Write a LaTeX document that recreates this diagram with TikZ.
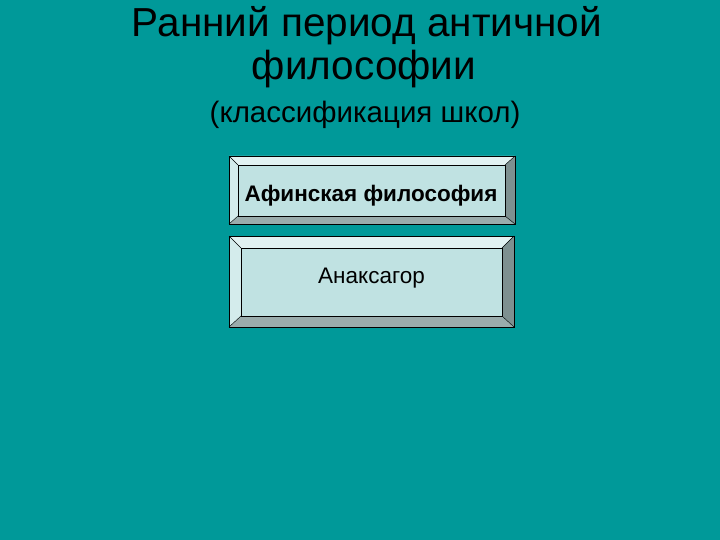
\documentclass[tikz,border=0pt]{standalone}
\usepackage{fontspec}
\setmainfont{Liberation Sans}
\definecolor{bg}{HTML}{009999}
\definecolor{boxfill}{HTML}{C0E2E2}
\definecolor{bevtop}{HTML}{E2F2F2}
\definecolor{bevleft}{HTML}{D4ECEC}
\definecolor{bevright}{HTML}{7E9090}
\definecolor{bevbot}{HTML}{9AACAC}
\tikzset{
  bev/.style={draw=black, line width=0.6pt},
  lbl/.style={inner sep=0pt, anchor=base, text=black}
}
\newcommand{\bevbox}[9]{% x1 y1 x2 y2 ix1 iy1 ix2 iy2 name
  \fill[bevtop] (#1,#2) -- (#3,#2) -- (#7,#6) -- (#5,#6) -- cycle;
  \fill[bevleft] (#1,#2) -- (#5,#6) -- (#5,#8) -- (#1,#4) -- cycle;
  \fill[bevright] (#3,#2) -- (#3,#4) -- (#7,#8) -- (#7,#6) -- cycle;
  \fill[bevbot] (#1,#4) -- (#3,#4) -- (#7,#8) -- (#5,#8) -- cycle;
  \draw[black, line width=0.4pt] (#1,#2) -- (#5,#6) (#3,#2) -- (#7,#6) (#1,#4) -- (#5,#8) (#3,#4) -- (#7,#8);
  \draw[bev, fill=boxfill] (#5,#6) rectangle (#7,#8);
  \draw[bev] (#1,#2) rectangle (#3,#4);
  \coordinate (#9) at ({(#5+#7)/2},{(#6+#8)/2});
}
\begin{document}
\begin{tikzpicture}[x=1pt,y=-1pt]
\fill[bg] (0,0) rectangle (720,540);
\useasboundingbox (0,0) rectangle (720,540);
\node[lbl, font=\fontsize{40.5}{44}\selectfont] (t1) at (367,37) {Ранний период античной};
\node[lbl, font=\fontsize{40.5}{44}\selectfont] (t2) at (364,80) {философии};
\node[lbl, font=\fontsize{29.5}{32}\selectfont] (t3) at (365,123) {(классификация школ)};
\bevbox{229}{156}{515}{224}{238}{165}{505}{216}{c1}
\node[lbl, font=\fontsize{22.5}{25}\selectfont\bfseries] (b1) at (371,202) {Афинская философия};
\bevbox{229}{236}{514}{327}{241}{248}{502}{316}{c2}
\node[lbl, font=\fontsize{22.5}{25}\selectfont] (b2) at (371.5,283) {Анаксагор};
\end{tikzpicture}
\end{document}
